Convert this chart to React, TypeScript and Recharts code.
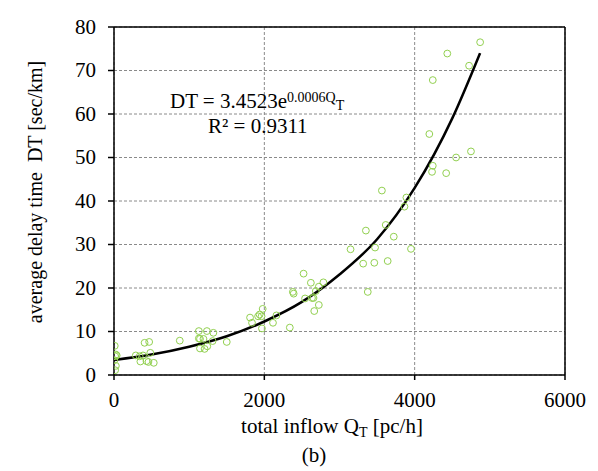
import React from "react";
import {
  ComposedChart,
  Scatter,
  Line,
  XAxis,
  YAxis,
  CartesianGrid,
  ReferenceLine,
} from "recharts";

// observed points: total inflow QT [pc/h] and delay time DT [sec/km]
const inflow = [
  4871, 4434, 4724, 4241, 4195, 4749, 4551, 4241, 4231, 4419,
  3564, 3890, 3864, 3615, 3351, 3722, 3473, 3147, 3951, 3315,
  3463, 3641, 3376, 2522, 2619, 2786, 2725, 2685, 2380, 2390,
  2542, 2634, 2654, 2725, 2664, 1978, 2161, 1937, 1917, 1963,
  1810, 1836, 2115, 1968, 2339, 1129, 1236, 1322, 1129, 1190,
  1144, 1312, 1500, 875, 1144, 1241, 1205, 407, 468, 483,
  290, 341, 386, 351, 432, 458, 529, 10, 25, 15,
  5, 25, 15, 36,
];
const delay = [
  76.5, 73.9, 71.1, 67.8, 55.4, 51.4, 50.0, 48.1, 46.7, 46.4,
  42.4, 40.8, 38.7, 34.5, 33.2, 31.8, 29.3, 28.9, 29.0, 25.6,
  25.8, 26.2, 19.1, 23.3, 21.2, 21.3, 20.3, 19.3, 19.1, 18.7,
  17.6, 17.7, 17.7, 16.1, 14.7, 15.2, 13.7, 13.9, 13.5, 13.5,
  13.2, 12.0, 12.0, 10.7, 10.9, 10.1, 10.1, 9.7, 8.4, 8.3,
  8.3, 7.8, 7.6, 7.9, 6.1, 6.6, 6.0, 7.4, 7.6, 5.1,
  4.5, 4.3, 4.5, 3.1, 3.2, 3.0, 2.8, 6.7, 4.7, 4.3,
  3.4, 2.1, 1.1, 4.5,
];

// trend line
const trendQ = [0, 500, 1000, 1500, 2000, 2500, 3000, 3500, 4000, 4500, 4870];
const trendDT = [3.45, 4.7, 6.5, 8.9, 12.3, 16.8, 23.1, 31.2, 43.0, 59.0, 74.0];

const xTicks = [0, 2000, 4000, 6000];
const yTicks = [0, 10, 20, 30, 40, 50, 60, 70, 80];

const points = inflow.map((q, i) => ({ q, dt: delay[i] }));
const trend = trendQ.map((q, i) => ({ q, fit: trendDT[i] }));

const font = "Liberation Serif, Times New Roman, serif";

const Ring = (props: any) => (
  <circle cx={props.cx} cy={props.cy} r={3.4} fill="none" stroke="#92d050" strokeWidth={1} />
);

// tick labels drawn by hand so the serif font sticks
const XTick = (p: any) => (
  <text x={p.x} y={p.y} dy="0.71em" textAnchor="middle" fontFamily={font} fontSize={21} fill="#000">
    {p.payload.value}
  </text>
);
const YTick = (p: any) => (
  <text x={p.x} y={p.y} dy="0.33em" textAnchor="end" fontFamily={font} fontSize={21} fill="#000">
    {p.payload.value}
  </text>
);

export default function App() {
  return (
    <div style={{ position: "relative", width: 598, height: 471, background: "#fff", fontFamily: font }}>
      <style>{"body{margin:0}"}</style>
      <ComposedChart
        width={598}
        height={471}
        margin={{ top: 27, right: 33, left: 0, bottom: 0 }}
      >
        <CartesianGrid stroke="#8a8a8a" strokeDasharray="3 2" strokeWidth={1} />
        <XAxis
          type="number"
          dataKey="q"
          domain={[0, 6000]}
          ticks={xTicks}
          allowDataOverflow
          height={96}
          tickSize={5}
          tickMargin={12}
          stroke="#000"
          strokeWidth={1.5}
          tick={XTick}
        />
        <YAxis
          type="number"
          domain={[0, 80]}
          ticks={yTicks}
          allowDataOverflow
          width={114}
          tickSize={6}
          tickMargin={12}
          stroke="#000"
          strokeWidth={1.5}
          tick={YTick}
        />
        <ReferenceLine y={80} stroke="#000" strokeWidth={1.5} />
        <ReferenceLine x={6000} stroke="#000" strokeWidth={1.5} />
        <Scatter data={points} dataKey="dt" shape={Ring} isAnimationActive={false} />
        <Line
          data={trend}
          dataKey="fit"
          type="monotone"
          stroke="#000"
          strokeWidth={2.5}
          dot={false}
          activeDot={false}
          isAnimationActive={false}
        />
      </ComposedChart>
      <svg
        width={598}
        height={471}
        style={{ position: "absolute", left: 0, top: 0, pointerEvents: "none" }}
        fontFamily={font}
        fill="#000"
      >
        <text
          transform="translate(35,192) rotate(-90)"
          textAnchor="middle"
          dominantBaseline="central"
          fontSize={20}
        >
          {"average delay time\u00a0\u00a0DT [sec/km]"}
        </text>
        <text x={332} y={433} textAnchor="middle" fontSize={21}>
          total inflow Q
          <tspan fontSize={14} dy={4}>T</tspan>
          <tspan dy={-4}> [pc/h]</tspan>
        </text>
        <text x={314} y={462} textAnchor="middle" fontSize={21}>
          (b)
        </text>
        <text x={170} y={108} fontSize={21}>
          DT = 3.4523e
          <tspan fontSize={14} dy={-6}>0.0006Q</tspan>
          <tspan fontSize={14} dy={8}>T</tspan>
        </text>
        <text x={208} y={133} fontSize={21}>
          R² = 0.9311
        </text>
      </svg>
    </div>
  );
}
